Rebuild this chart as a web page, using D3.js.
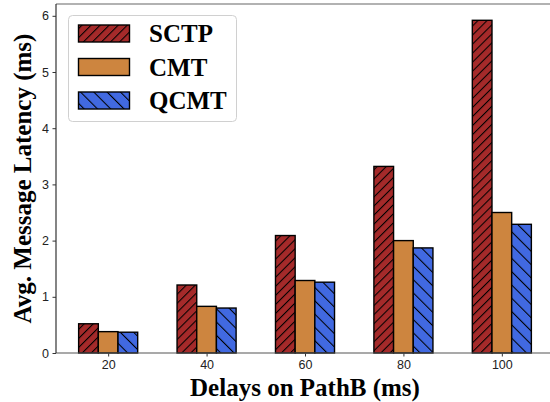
<!DOCTYPE html>
<html>
<head>
<meta charset="utf-8">
<script src="https://cdn.jsdelivr.net/npm/d3@7"></script>
<style>
  body { margin: 0; background: #fff; }
  svg { display: block; }
</style>
</head>
<body>
<svg></svg>
<script>
// data
var delays = ["20", "40", "60", "80", "100"];
var seriesNames = ["SCTP", "CMT", "QCMT"];
var sctp = [0.52, 1.21, 2.09, 3.32, 5.92];
var cmt = [0.38, 0.83, 1.29, 2.00, 2.50];
var qcmt = [0.37, 0.80, 1.26, 1.87, 2.29];
var yTicks = [0, 1, 2, 3, 4, 5, 6];

var colors = ["#a52a2a", "#cd853f", "#4169e1"];
var fills = ["url(#hatchFwd)", colors[1], "url(#hatchBack)"];
var allSeries = [sctp, cmt, qcmt];

var W = 550, H = 402;
var svg = d3.select("svg")
    .attr("width", W)
    .attr("height", H);

svg.append("rect").attr("width", W).attr("height", H).attr("fill", "#fff");

// hatch patterns
var defs = svg.append("defs");
function hatch(id, color, size, angle) {
    var p = defs.append("pattern")
        .attr("id", id)
        .attr("patternUnits", "userSpaceOnUse")
        .attr("width", size)
        .attr("height", size)
        .attr("patternTransform", "rotate(" + angle + ")");
    p.append("rect").attr("width", size).attr("height", size).attr("fill", color);
    p.append("line")
        .attr("x1", 0.5).attr("y1", 0).attr("x2", 0.5).attr("y2", size)
        .attr("stroke", "#000").attr("stroke-width", 1.1);
}
hatch("hatchFwd", colors[0], 6.4, 45);
hatch("hatchBack", colors[2], 9.4, -45);

var m = { left: 56, right: 554, top: 4, bottom: 353 };

var x = d3.scaleLinear().domain([-0.53, 4.53]).range([m.left, m.right]);
var y = d3.scaleLinear().domain([0, 6.21]).range([m.bottom, m.top]);
var barW = 0.2;

// bars
allSeries.forEach(function(vals, s) {
    svg.append("g")
        .selectAll("rect")
        .data(vals)
        .enter().append("rect")
        .attr("x", function(d, i) { return x(i + (s - 1) * barW - barW / 2); })
        .attr("width", x(barW) - x(0))
        .attr("y", function(d) { return y(d); })
        .attr("height", function(d) { return y(0) - y(d); })
        .attr("fill", fills[s])
        .attr("stroke", "#000")
        .attr("stroke-width", 1.4);
});

// axes
var xAxis = d3.axisBottom(x)
    .tickValues([0, 1, 2, 3, 4])
    .tickFormat(function(d) { return delays[d]; })
    .tickSizeInner(3.5).tickSizeOuter(0).tickPadding(3.5);
var yAxis = d3.axisLeft(y)
    .tickValues(yTicks)
    .tickFormat(d3.format("d"))
    .tickSizeInner(3.5).tickSizeOuter(0).tickPadding(3.5);

var gx = svg.append("g").attr("transform", "translate(0," + m.bottom + ")").call(xAxis);
var gy = svg.append("g").attr("transform", "translate(" + m.left + ",0)").call(yAxis);
[gx, gy].forEach(function(g) {
    g.selectAll("text")
        .attr("font-family", "'Liberation Sans', Arial, sans-serif")
        .attr("font-size", 12.5)
        .attr("fill", "#222");
    g.selectAll(".tick line").attr("stroke", "#333");
    g.select(".domain").remove();
});

// spines
svg.append("line").attr("x1", m.left).attr("x2", m.right).attr("y1", m.top).attr("y2", m.top)
    .attr("stroke", "#666").attr("stroke-width", 1.2);
svg.append("line").attr("x1", m.left).attr("x2", m.right).attr("y1", m.bottom).attr("y2", m.bottom)
    .attr("stroke", "#555").attr("stroke-width", 1.2);
svg.append("line").attr("x1", m.left).attr("x2", m.left).attr("y1", m.top).attr("y2", m.bottom)
    .attr("stroke", "#333").attr("stroke-width", 1.2);

// axis labels
svg.append("text")
    .attr("x", (m.left + m.right) / 2)
    .attr("y", 395.5)
    .attr("text-anchor", "middle")
    .attr("font-family", "'Liberation Serif', 'Times New Roman', serif")
    .attr("font-weight", "bold")
    .attr("font-size", 25)
    .text("Delays on PathB (ms)");

svg.append("text")
    .attr("transform", "translate(31," + (m.top + m.bottom) / 2 + ") rotate(-90)")
    .attr("text-anchor", "middle")
    .attr("font-family", "'Liberation Serif', 'Times New Roman', serif")
    .attr("font-weight", "bold")
    .attr("font-size", 25)
    .text("Avg. Message Latency (ms)");

// legend
var legend = svg.append("g");
legend.append("rect")
    .attr("x", 68.5).attr("y", 15.5)
    .attr("width", 168).attr("height", 106)
    .attr("rx", 4)
    .attr("fill", "#fff").attr("fill-opacity", 0.8)
    .attr("stroke", "#d0d0d0");

var item = legend.selectAll("g.item")
    .data(seriesNames)
    .enter().append("g")
    .attr("class", "item")
    .attr("transform", function(d, i) { return "translate(0," + (25 + i * 33.5) + ")"; });
item.append("rect")
    .attr("x", 78.5).attr("y", 0)
    .attr("width", 51).attr("height", 17)
    .attr("fill", function(d, i) { return fills[i]; })
    .attr("stroke", "#000").attr("stroke-width", 1.4);
item.append("text")
    .attr("x", 149)
    .attr("y", 17)
    .attr("font-family", "'Liberation Serif', 'Times New Roman', serif")
    .attr("font-weight", "bold")
    .attr("font-size", 25)
    .text(function(d) { return d; });
</script>
</body>
</html>
